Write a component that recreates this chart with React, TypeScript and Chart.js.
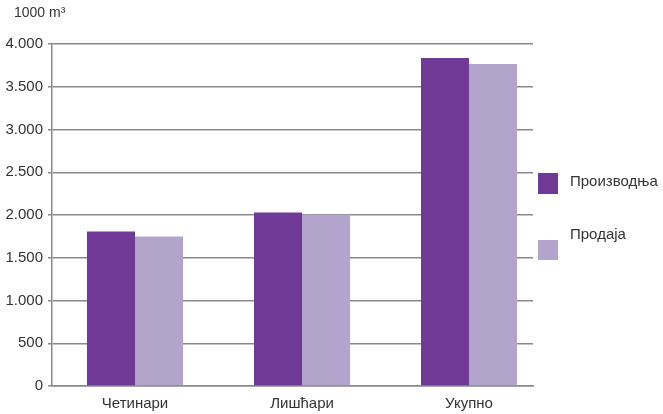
import React, { useEffect, useRef } from "react";
import { Chart, registerables } from "chart.js";

Chart.register(...registerables);

const categories = ["Четинари", "Лишћари", "Укупно"];
const seriesNames = ["Производња", "Продаја"];
const production = [1808, 2029, 3837];
const sales = [1749, 2006, 3767];
const seriesColors = ["#6E3A96", "#B3A4CB"];
const yTicks = [0, 500, 1000, 1500, 2000, 2500, 3000, 3500, 4000];
const unitLabel = "1000 m³";

const FONT = "'Liberation Sans', Arial, sans-serif";

function fmt(v: number): string {
  return String(v).replace(/\B(?=(\d{3})+(?!\d))/g, ".");
}

export default function App() {
  const ref = useRef<HTMLCanvasElement | null>(null);

  useEffect(() => {
    document.body.style.margin = "0";
    const ctx = ref.current;
    if (!ctx) return;
    const chart = new Chart(ctx, {
      type: "bar",
      data: {
        datasets: [
          {
            label: seriesNames[0],
            data: production.map((y, i) => ({ x: i, y })),
            backgroundColor: seriesColors[0],
            borderWidth: 0,
          },
          {
            label: seriesNames[1],
            data: sales.map((y, i) => ({ x: i, y })),
            backgroundColor: seriesColors[1],
            borderWidth: 0,
          },
        ],
      },
      options: {
        animation: false,
        responsive: false,
        maintainAspectRatio: false,
        layout: { padding: { left: 0, right: 130, top: 44, bottom: 0 } },
        plugins: { legend: { display: false }, tooltip: { enabled: false } },
        datasets: { bar: { barPercentage: 1, categoryPercentage: 0.575 } },
        scales: {
          x: {
            type: "linear",
            offset: false,
            min: -0.497,
            max: 2.383,
            grid: { display: false, drawTicks: false, offset: false },
            border: { display: true, color: "#8a8a8a", width: 1.5 },
            afterBuildTicks: (scale: any) => {
              scale.ticks = categories.map((_, i) => ({ value: i }));
            },
            afterFit: (scale: any) => {
              scale.height = 28;
            },
            ticks: {
              autoSkip: false,
              maxRotation: 0,
              padding: 9,
              color: "#333",
              font: { family: FONT, size: 15 },
              callback: (v: any) => categories[v] ?? "",
            },
          },
          y: {
            min: 0,
            max: 4000,
            afterBuildTicks: (scale: any) => {
              scale.ticks = yTicks.map((v) => ({ value: v }));
            },
            afterFit: (scale: any) => {
              scale.width = 52;
            },
            grid: {
              color: "#8a8a8a",
              lineWidth: 1.5,
              drawTicks: true,
              tickLength: 4,
            },
            border: { display: true, color: "#8a8a8a", width: 1.5 },
            ticks: {
              padding: 5,
              color: "#333",
              font: { family: FONT, size: 15 },
              callback: (v: any) => fmt(Number(v)),
            },
          },
        },
      },
    } as any);
    return () => chart.destroy();
  }, []);

  const textStyle: React.CSSProperties = {
    position: "absolute",
    fontFamily: FONT,
    fontSize: 15,
    lineHeight: "15px",
    color: "#333",
    whiteSpace: "nowrap",
  };

  return (
    <div style={{ position: "absolute", left: 0, top: 0, width: 663, height: 414, background: "#fff" }}>
      <canvas ref={ref} width={663} height={414} style={{ position: "absolute", left: 0, top: 0 }} />
      <div style={{ ...textStyle, left: 14, top: 5, fontSize: 14 }}>{unitLabel}</div>
      <div style={{ position: "absolute", left: 538, top: 173, width: 20, height: 21, background: seriesColors[0] }} />
      <div style={{ ...textStyle, left: 570, top: 173 }}>{seriesNames[0]}</div>
      <div style={{ position: "absolute", left: 538, top: 240, width: 20, height: 20, background: seriesColors[1] }} />
      <div style={{ ...textStyle, left: 570, top: 226 }}>{seriesNames[1]}</div>
    </div>
  );
}
